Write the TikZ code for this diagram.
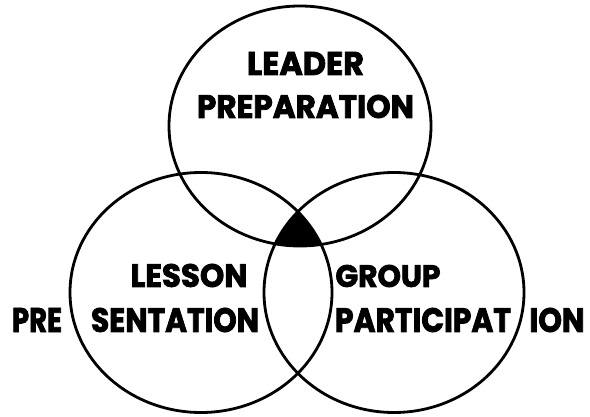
\documentclass[tikz,border=0pt]{standalone}
\usepackage{fontspec}
\setmainfont{Poppins}[BoldFeatures={FakeBold=2.5}]
\usepackage{graphicx}
\begin{document}
\begin{tikzpicture}[x=1pt,y=-1pt,
  ring/.style={line width=2.8pt},
  lbl/.style={inner sep=0pt, outer sep=0pt}]
\useasboundingbox (0,0) rectangle (590,417);
\newcommand{\lt}[3]{\resizebox{#1pt}{#2pt}{\bfseries #3}}
% triple intersection
\begin{scope}
  \clip (300,126) ellipse [x radius=131, y radius=120];
  \clip (201,292.5) ellipse [x radius=131, y radius=120];
  \fill (394,292.5) ellipse [x radius=130, y radius=120];
\end{scope}
\draw[ring] (300,126) ellipse [x radius=131, y radius=120];
\draw[ring] (201,292.5) ellipse [x radius=131, y radius=120];
\draw[ring] (394,292.5) ellipse [x radius=130, y radius=120];
% labels
\node[lbl] (leader) at (305.5,63.5) {\lt{117}{23}{LEADER}};
\node[lbl] (prep) at (305.5,106.5) {\lt{217}{23}{PREPARATION}};
\node[lbl] (lesson) at (189,275.5) {\lt{117}{23}{LESSON}};
\node[lbl] (pre) at (37,320) {\lt{50}{24}{PRE}};
\node[lbl] (sent) at (175,320) {\lt{168}{24}{SENTATION}};
\node[lbl] (group) at (388,276) {\lt{105}{22}{GROUP}};
\node[lbl] (partic) at (423,320) {\lt{176}{24}{PARTICIPAT}};
\node[lbl] (ion) at (557,320) {\lt{55}{24}{ION}};
\end{tikzpicture}
\end{document}
